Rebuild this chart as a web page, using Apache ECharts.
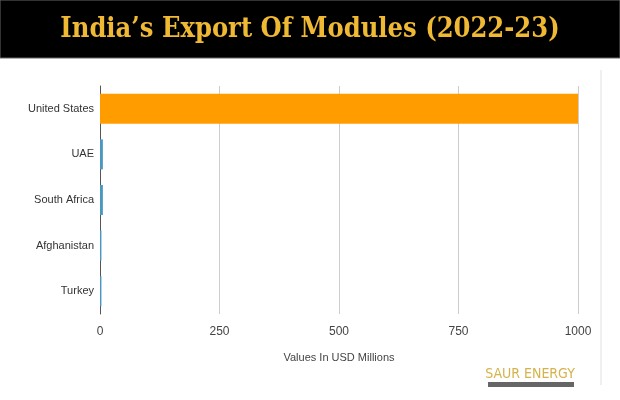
<!DOCTYPE html>
<html><head><meta charset="utf-8">
<script src="https://cdn.jsdelivr.net/npm/echarts@6/dist/echarts.min.js"></script>
<style>html,body{margin:0;padding:0;background:#fff}#c{width:620px;height:400px;position:relative}</style>
</head><body><div id="c"></div>
<script>
const categories = ['United States','UAE','South Africa','Afghanistan','Turkey'];
const values = [1000, 6, 6, 3, 3];
const barColors = ['#ff9c00','#4a98c0','#4a98c0','#4a98c0','#4a98c0'];
const xTicks = [0,250,500,750,1000];
const chart = echarts.init(document.getElementById('c'));
chart.setOption({
  animation:false,
  graphic:[
    {type:'rect',shape:{x:0,y:0,width:620,height:58},style:{fill:'#000',stroke:'#666',lineWidth:1}},
    {type:'text',x:310,y:30,style:{text:"India’s Export Of Modules (2022-23)",fill:'#f0b933',font:'bold 27px "DejaVu Serif Condensed", serif',align:'center',verticalAlign:'middle'}},
    {type:'line',shape:{x1:601,y1:70,x2:601,y2:385},style:{stroke:'#e0e0e0',lineWidth:1}},
    {type:'text',x:530,y:374,style:{text:'SAUR ENERGY',fill:'#d6b24c',font:'14px "DejaVu Sans Condensed", sans-serif',align:'center',verticalAlign:'middle'}},
    {type:'rect',shape:{x:488,y:382,width:86,height:5},style:{fill:'#666'}}
  ],
  grid:{left:100,right:42,top:86,bottom:86},
  xAxis:{type:'value',min:0,max:1000,interval:250,
    axisLabel:{color:'#444',fontSize:12,fontFamily:'Arial, Liberation Sans',margin:12,formatter:v=>xTicks.includes(v)?String(v):''},
    splitLine:{lineStyle:{color:'#ccc'}},axisLine:{show:false},axisTick:{show:false},
    name:'Values In USD Millions',nameLocation:'middle',nameGap:38,
    nameTextStyle:{color:'#444',fontSize:11,fontFamily:'Arial, Liberation Sans'}},
  yAxis:{type:'category',data:categories,inverse:true,
    axisLabel:{color:'#333',fontSize:11,fontFamily:'Arial, Liberation Sans',margin:6},
    axisLine:{lineStyle:{color:'#555'}},axisTick:{show:false}},
  series:[{type:'bar',data:values.map((v,i)=>({value:v,itemStyle:{color:barColors[i]}})),barWidth:30}]
});
</script></body></html>
